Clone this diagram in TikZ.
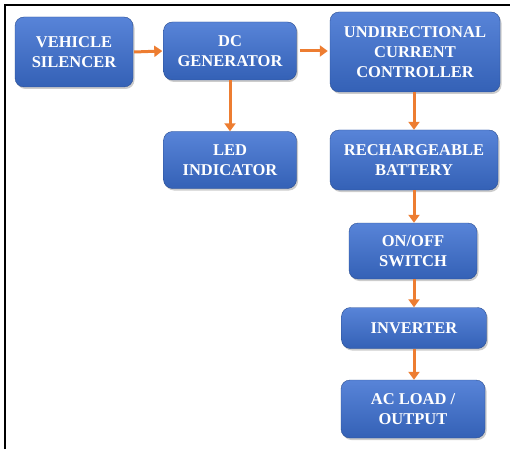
\documentclass[tikz,border=0pt]{standalone}
\usepackage{fontspec}
\setmainfont{Liberation Serif}
\usetikzlibrary{arrows.meta,shadows}
\definecolor{boxtop}{RGB}{88,132,216}
\definecolor{boxbot}{RGB}{52,97,182}
\definecolor{flow}{RGB}{237,125,49}
\tikzset{
  blk/.style={rounded corners=9pt, top color=boxtop, bottom color=boxbot,
    draw=boxbot!80!black, line width=0.4pt, drop shadow={opacity=0.4, shadow xshift=1.5pt, shadow yshift=-2pt},
    text=white, align=center, inner sep=0pt,
    font=\fontsize{16.5}{20}\selectfont\bfseries},
  link/.style={draw=flow, line width=3pt, -{Triangle[length=8pt,width=11pt]}}
}
\begin{document}
\begin{tikzpicture}[x=1pt, y=-1pt]
\useasboundingbox (0,0) rectangle (510,449);
\draw[line width=2pt] (5,449) -- (5,5) -- (510,5);
% top row
\node[blk, minimum width=118pt, minimum height=70pt] (silencer) at (74,52) {VEHICLE\\SILENCER};
\node[blk, minimum width=133pt, minimum height=58pt] (gen) at (230,51) {DC\\GENERATOR};
\node[blk, minimum width=170pt, minimum height=80pt] (ucc) at (415,52) {UNDIRECTIONAL\\CURRENT\\CONTROLLER};
% second row
\node[blk, minimum width=133pt, minimum height=57pt] (led) at (230,160) {LED\\INDICATOR};
\node[blk, minimum width=168pt, minimum height=60pt] (battery) at (414,160) {RECHARGEABLE\\BATTERY};
% output chain
\node[blk, minimum width=128pt, minimum height=56pt] (switch) at (413,251) {ON/OFF\\SWITCH};
\node[blk, minimum width=145pt, minimum height=41pt] (inverter) at (414,328) {INVERTER};
\node[blk, minimum width=144pt, minimum height=58pt] (acload) at (413,409) {AC LOAD /\\OUTPUT};
% connectors
\draw[link] (silencer.east) ++(1pt,0) -- ([xshift=-1pt]gen.west);
\draw[link] ([xshift=3pt]gen.east) -- ([xshift=-2pt]ucc.west |- gen.east);
\draw[link] (gen.south) -- (led.north);
\draw[link] (battery.north |- ucc.south) -- (battery.north);
\draw[link] (battery.south) -- (battery.south |- switch.north);
\draw[link] (inverter.north |- switch.south) -- (inverter.north);
\draw[link] (inverter.south) -- (inverter.south |- acload.north);
\end{tikzpicture}
\end{document}
